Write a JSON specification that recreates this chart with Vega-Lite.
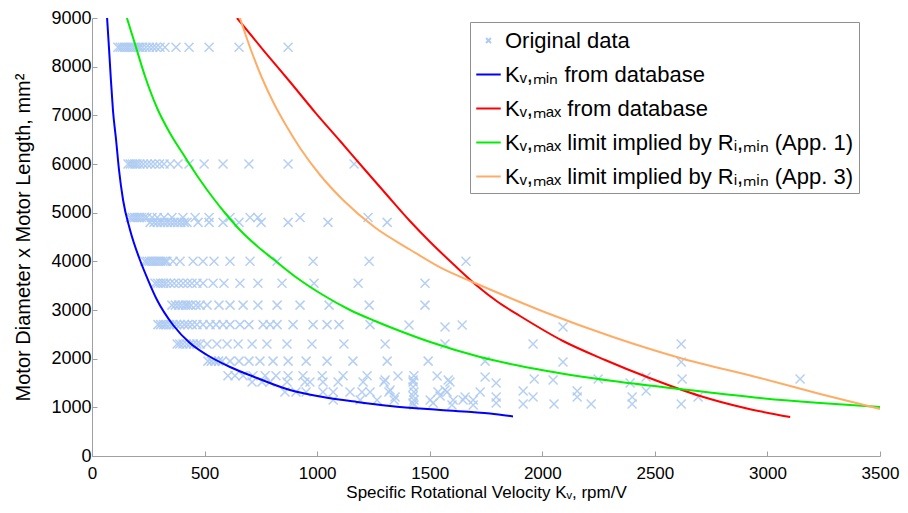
{
  "$schema": "https://vega.github.io/schema/vega-lite/v6.json",
  "autosize": {"type": "none"},
  "width": 788,
  "height": 438,
  "padding": {"left": 92, "top": 18, "right": 28, "bottom": 57},
  "background": "white",
  "config": {"view": {"stroke": null}},
  "datasets": {
    "pts": [
      {"series":"Original data","kv":115,"a":8400},{"series":"Original data","kv":125,"a":8400},{"series":"Original data","kv":135,"a":8400},{"series":"Original data","kv":145,"a":8400},{"series":"Original data","kv":155,"a":8400},{"series":"Original data","kv":165,"a":8400},{"series":"Original data","kv":175,"a":8400},{"series":"Original data","kv":185,"a":8400},{"series":"Original data","kv":195,"a":8400},{"series":"Original data","kv":205,"a":8400},{"series":"Original data","kv":213,"a":8400},{"series":"Original data","kv":225,"a":8400},{"series":"Original data","kv":240,"a":8400},{"series":"Original data","kv":255,"a":8400},{"series":"Original data","kv":270,"a":8400},{"series":"Original data","kv":285,"a":8400},{"series":"Original data","kv":302,"a":8400},{"series":"Original data","kv":324,"a":8400},{"series":"Original data","kv":373,"a":8400},{"series":"Original data","kv":431,"a":8400},{"series":"Original data","kv":520,"a":8400},{"series":"Original data","kv":653,"a":8400},{"series":"Original data","kv":871,"a":8400},
      {"series":"Original data","kv":160,"a":6000},{"series":"Original data","kv":170,"a":6000},{"series":"Original data","kv":180,"a":6000},{"series":"Original data","kv":190,"a":6000},{"series":"Original data","kv":200,"a":6000},{"series":"Original data","kv":213,"a":6000},{"series":"Original data","kv":228,"a":6000},{"series":"Original data","kv":245,"a":6000},{"series":"Original data","kv":262,"a":6000},{"series":"Original data","kv":280,"a":6000},{"series":"Original data","kv":300,"a":6000},{"series":"Original data","kv":320,"a":6000},{"series":"Original data","kv":347,"a":6000},{"series":"Original data","kv":382,"a":6000},{"series":"Original data","kv":431,"a":6000},{"series":"Original data","kv":498,"a":6000},{"series":"Original data","kv":582,"a":6000},{"series":"Original data","kv":697,"a":6000},{"series":"Original data","kv":871,"a":6000},{"series":"Original data","kv":1164,"a":6000},
      {"series":"Original data","kv":169,"a":4900},{"series":"Original data","kv":180,"a":4900},{"series":"Original data","kv":190,"a":4900},{"series":"Original data","kv":200,"a":4900},{"series":"Original data","kv":210,"a":4900},{"series":"Original data","kv":220,"a":4900},{"series":"Original data","kv":232,"a":4900},{"series":"Original data","kv":244,"a":4900},{"series":"Original data","kv":267,"a":4900},{"series":"Original data","kv":290,"a":4900},{"series":"Original data","kv":320,"a":4900},{"series":"Original data","kv":355,"a":4900},{"series":"Original data","kv":404,"a":4900},{"series":"Original data","kv":458,"a":4900},{"series":"Original data","kv":520,"a":4900},{"series":"Original data","kv":613,"a":4900},{"series":"Original data","kv":702,"a":4900},{"series":"Original data","kv":737,"a":4900},{"series":"Original data","kv":924,"a":4900},{"series":"Original data","kv":1226,"a":4900},
      {"series":"Original data","kv":258,"a":4800},{"series":"Original data","kv":275,"a":4800},{"series":"Original data","kv":290,"a":4800},{"series":"Original data","kv":305,"a":4800},{"series":"Original data","kv":320,"a":4800},{"series":"Original data","kv":335,"a":4800},{"series":"Original data","kv":350,"a":4800},{"series":"Original data","kv":365,"a":4800},{"series":"Original data","kv":380,"a":4800},{"series":"Original data","kv":395,"a":4800},{"series":"Original data","kv":410,"a":4800},{"series":"Original data","kv":422,"a":4800},{"series":"Original data","kv":471,"a":4800},{"series":"Original data","kv":520,"a":4800},{"series":"Original data","kv":582,"a":4800},{"series":"Original data","kv":653,"a":4800},{"series":"Original data","kv":751,"a":4800},{"series":"Original data","kv":871,"a":4800},{"series":"Original data","kv":1048,"a":4800},{"series":"Original data","kv":1311,"a":4800},
      {"series":"Original data","kv":235,"a":4000},{"series":"Original data","kv":245,"a":4000},{"series":"Original data","kv":255,"a":4000},{"series":"Original data","kv":265,"a":4000},{"series":"Original data","kv":275,"a":4000},{"series":"Original data","kv":285,"a":4000},{"series":"Original data","kv":295,"a":4000},{"series":"Original data","kv":305,"a":4000},{"series":"Original data","kv":315,"a":4000},{"series":"Original data","kv":325,"a":4000},{"series":"Original data","kv":333,"a":4000},{"series":"Original data","kv":360,"a":4000},{"series":"Original data","kv":391,"a":4000},{"series":"Original data","kv":449,"a":4000},{"series":"Original data","kv":493,"a":4000},{"series":"Original data","kv":542,"a":4000},{"series":"Original data","kv":613,"a":4000},{"series":"Original data","kv":702,"a":4000},{"series":"Original data","kv":822,"a":4000},{"series":"Original data","kv":982,"a":4000},{"series":"Original data","kv":1231,"a":4000},{"series":"Original data","kv":1661,"a":4000},
      {"series":"Original data","kv":280,"a":3550},{"series":"Original data","kv":292,"a":3550},{"series":"Original data","kv":305,"a":3550},{"series":"Original data","kv":318,"a":3550},{"series":"Original data","kv":330,"a":3550},{"series":"Original data","kv":347,"a":3550},{"series":"Original data","kv":365,"a":3550},{"series":"Original data","kv":385,"a":3550},{"series":"Original data","kv":405,"a":3550},{"series":"Original data","kv":425,"a":3550},{"series":"Original data","kv":444,"a":3550},{"series":"Original data","kv":466,"a":3550},{"series":"Original data","kv":493,"a":3550},{"series":"Original data","kv":538,"a":3550},{"series":"Original data","kv":586,"a":3550},{"series":"Original data","kv":657,"a":3550},{"series":"Original data","kv":737,"a":3550},{"series":"Original data","kv":844,"a":3550},{"series":"Original data","kv":986,"a":3550},{"series":"Original data","kv":1182,"a":3550},{"series":"Original data","kv":1479,"a":3550},
      {"series":"Original data","kv":355,"a":3100},{"series":"Original data","kv":370,"a":3100},{"series":"Original data","kv":385,"a":3100},{"series":"Original data","kv":400,"a":3100},{"series":"Original data","kv":415,"a":3100},{"series":"Original data","kv":426,"a":3100},{"series":"Original data","kv":440,"a":3100},{"series":"Original data","kv":462,"a":3100},{"series":"Original data","kv":480,"a":3100},{"series":"Original data","kv":511,"a":3100},{"series":"Original data","kv":564,"a":3100},{"series":"Original data","kv":613,"a":3100},{"series":"Original data","kv":671,"a":3100},{"series":"Original data","kv":737,"a":3100},{"series":"Original data","kv":822,"a":3100},{"series":"Original data","kv":924,"a":3100},{"series":"Original data","kv":1053,"a":3100},{"series":"Original data","kv":1231,"a":3100},{"series":"Original data","kv":1479,"a":3100},
      {"series":"Original data","kv":293,"a":2700},{"series":"Original data","kv":305,"a":2700},{"series":"Original data","kv":318,"a":2700},{"series":"Original data","kv":330,"a":2700},{"series":"Original data","kv":345,"a":2700},{"series":"Original data","kv":360,"a":2700},{"series":"Original data","kv":375,"a":2700},{"series":"Original data","kv":391,"a":2700},{"series":"Original data","kv":410,"a":2700},{"series":"Original data","kv":426,"a":2700},{"series":"Original data","kv":445,"a":2700},{"series":"Original data","kv":466,"a":2700},{"series":"Original data","kv":493,"a":2700},{"series":"Original data","kv":524,"a":2700},{"series":"Original data","kv":551,"a":2700},{"series":"Original data","kv":582,"a":2700},{"series":"Original data","kv":613,"a":2700},{"series":"Original data","kv":657,"a":2700},{"series":"Original data","kv":697,"a":2700},{"series":"Original data","kv":760,"a":2700},{"series":"Original data","kv":791,"a":2700},{"series":"Original data","kv":822,"a":2700},{"series":"Original data","kv":893,"a":2700},{"series":"Original data","kv":982,"a":2700},{"series":"Original data","kv":1044,"a":2700},{"series":"Original data","kv":1097,"a":2700},{"series":"Original data","kv":1235,"a":2700},{"series":"Original data","kv":1408,"a":2690},{"series":"Original data","kv":1568,"a":2650},{"series":"Original data","kv":1644,"a":2690},{"series":"Original data","kv":2092,"a":2650},
      {"series":"Original data","kv":378,"a":2300},{"series":"Original data","kv":390,"a":2300},{"series":"Original data","kv":404,"a":2300},{"series":"Original data","kv":420,"a":2300},{"series":"Original data","kv":435,"a":2300},{"series":"Original data","kv":450,"a":2300},{"series":"Original data","kv":466,"a":2300},{"series":"Original data","kv":480,"a":2300},{"series":"Original data","kv":511,"a":2300},{"series":"Original data","kv":555,"a":2300},{"series":"Original data","kv":600,"a":2300},{"series":"Original data","kv":649,"a":2300},{"series":"Original data","kv":711,"a":2300},{"series":"Original data","kv":777,"a":2300},{"series":"Original data","kv":866,"a":2300},{"series":"Original data","kv":977,"a":2300},{"series":"Original data","kv":1119,"a":2300},{"series":"Original data","kv":1302,"a":2300},{"series":"Original data","kv":1568,"a":2300},{"series":"Original data","kv":1959,"a":2300},{"series":"Original data","kv":2617,"a":2300},
      {"series":"Original data","kv":515,"a":1950},{"series":"Original data","kv":530,"a":1950},{"series":"Original data","kv":546,"a":1950},{"series":"Original data","kv":562,"a":1950},{"series":"Original data","kv":578,"a":1950},{"series":"Original data","kv":613,"a":1950},{"series":"Original data","kv":653,"a":1950},{"series":"Original data","kv":697,"a":1950},{"series":"Original data","kv":746,"a":1950},{"series":"Original data","kv":804,"a":1950},{"series":"Original data","kv":871,"a":1950},{"series":"Original data","kv":951,"a":1950},{"series":"Original data","kv":1044,"a":1950},{"series":"Original data","kv":1159,"a":1950},{"series":"Original data","kv":1311,"a":1950},{"series":"Original data","kv":1493,"a":1950},{"series":"Original data","kv":1746,"a":1950},{"series":"Original data","kv":2092,"a":1930},{"series":"Original data","kv":2617,"a":1930},
      {"series":"Original data","kv":604,"a":1650},{"series":"Original data","kv":635,"a":1650},{"series":"Original data","kv":671,"a":1650},{"series":"Original data","kv":715,"a":1650},{"series":"Original data","kv":769,"a":1650},{"series":"Original data","kv":817,"a":1650},{"series":"Original data","kv":871,"a":1650},{"series":"Original data","kv":937,"a":1650},{"series":"Original data","kv":1022,"a":1650},{"series":"Original data","kv":1115,"a":1650},{"series":"Original data","kv":1222,"a":1650},{"series":"Original data","kv":1359,"a":1644},{"series":"Original data","kv":1430,"a":1650},{"series":"Original data","kv":1533,"a":1644},{"series":"Original data","kv":1746,"a":1623},{"series":"Original data","kv":2461,"a":1623},
      {"series":"Original data","kv":1302,"a":1562},{"series":"Original data","kv":1426,"a":1562},{"series":"Original data","kv":1582,"a":1562},{"series":"Original data","kv":1964,"a":1582},{"series":"Original data","kv":2048,"a":1560},{"series":"Original data","kv":2248,"a":1582},{"series":"Original data","kv":2621,"a":1582},{"series":"Original data","kv":3145,"a":1582},
      {"series":"Original data","kv":711,"a":1520},{"series":"Original data","kv":755,"a":1520},{"series":"Original data","kv":791,"a":1520},{"series":"Original data","kv":866,"a":1520},{"series":"Original data","kv":946,"a":1520},{"series":"Original data","kv":968,"a":1520},{"series":"Original data","kv":1026,"a":1520},{"series":"Original data","kv":1093,"a":1520},{"series":"Original data","kv":1204,"a":1520},{"series":"Original data","kv":1297,"a":1520},{"series":"Original data","kv":1426,"a":1520},{"series":"Original data","kv":1590,"a":1520},{"series":"Original data","kv":1795,"a":1500},{"series":"Original data","kv":2390,"a":1500},
      {"series":"Original data","kv":1426,"a":1418},{"series":"Original data","kv":1324,"a":1356},{"series":"Original data","kv":1568,"a":1356},
      {"series":"Original data","kv":857,"a":1315},{"series":"Original data","kv":906,"a":1315},{"series":"Original data","kv":951,"a":1315},{"series":"Original data","kv":1026,"a":1315},{"series":"Original data","kv":1071,"a":1315},{"series":"Original data","kv":1146,"a":1315},{"series":"Original data","kv":1199,"a":1315},{"series":"Original data","kv":1235,"a":1315},{"series":"Original data","kv":1319,"a":1315},{"series":"Original data","kv":1430,"a":1315},{"series":"Original data","kv":1537,"a":1315},{"series":"Original data","kv":1577,"a":1315},{"series":"Original data","kv":1724,"a":1315},{"series":"Original data","kv":1915,"a":1335},{"series":"Original data","kv":2155,"a":1335},{"series":"Original data","kv":2461,"a":1335},
      {"series":"Original data","kv":1426,"a":1233},{"series":"Original data","kv":1346,"a":1212},{"series":"Original data","kv":1546,"a":1233},{"series":"Original data","kv":1657,"a":1212},{"series":"Original data","kv":1795,"a":1212},{"series":"Original data","kv":1959,"a":1212},{"series":"Original data","kv":2155,"a":1212},{"series":"Original data","kv":2399,"a":1212},{"series":"Original data","kv":2692,"a":1212},
      {"series":"Original data","kv":1071,"a":1151},{"series":"Original data","kv":1191,"a":1151},{"series":"Original data","kv":1266,"a":1151},{"series":"Original data","kv":1342,"a":1151},{"series":"Original data","kv":1430,"a":1151},{"series":"Original data","kv":1502,"a":1151},{"series":"Original data","kv":1604,"a":1151},{"series":"Original data","kv":1648,"a":1151},{"series":"Original data","kv":1693,"a":1151},
      {"series":"Original data","kv":1430,"a":1048},{"series":"Original data","kv":1599,"a":1048},{"series":"Original data","kv":1693,"a":1048},{"series":"Original data","kv":1426,"a":1089},{"series":"Original data","kv":1515,"a":1089},{"series":"Original data","kv":1795,"a":1089},{"series":"Original data","kv":1915,"a":1068},{"series":"Original data","kv":2052,"a":1068},{"series":"Original data","kv":2217,"a":1068},{"series":"Original data","kv":2399,"a":1068},{"series":"Original data","kv":2617,"a":1068}
    ],
    "curves": [
      {"series":"Kᵥ,ₘᵢₙ from database","kv":67,"a":9000},{"series":"Kᵥ,ₘᵢₙ from database","kv":76,"a":8342},{"series":"Kᵥ,ₘᵢₙ from database","kv":84,"a":7726},{"series":"Kᵥ,ₘᵢₙ from database","kv":93,"a":7109},{"series":"Kᵥ,ₘᵢₙ from database","kv":107,"a":6493},{"series":"Kᵥ,ₘᵢₙ from database","kv":120,"a":5877},{"series":"Kᵥ,ₘᵢₙ from database","kv":138,"a":5260},{"series":"Kᵥ,ₘᵢₙ from database","kv":169,"a":4644},{"series":"Kᵥ,ₘᵢₙ from database","kv":213,"a":4027},{"series":"Kᵥ,ₘᵢₙ from database","kv":249,"a":3616},{"series":"Kᵥ,ₘᵢₙ from database","kv":289,"a":3205},{"series":"Kᵥ,ₘᵢₙ from database","kv":360,"a":2692},{"series":"Kᵥ,ₘᵢₙ from database","kv":435,"a":2322},{"series":"Kᵥ,ₘᵢₙ from database","kv":511,"a":2075},{"series":"Kᵥ,ₘᵢₙ from database","kv":613,"a":1829},{"series":"Kᵥ,ₘᵢₙ from database","kv":733,"a":1603},{"series":"Kᵥ,ₘᵢₙ from database","kv":879,"a":1356},{"series":"Kᵥ,ₘᵢₙ from database","kv":1026,"a":1212},{"series":"Kᵥ,ₘᵢₙ from database","kv":1177,"a":1110},{"series":"Kᵥ,ₘᵢₙ from database","kv":1324,"a":1027},{"series":"Kᵥ,ₘᵢₙ from database","kv":1546,"a":945},{"series":"Kᵥ,ₘᵢₙ from database","kv":1768,"a":873},{"series":"Kᵥ,ₘᵢₙ from database","kv":1870,"a":812},
      {"series":"Kᵥ,ₘₐₓ from database","kv":644,"a":9000},{"series":"Kᵥ,ₘₐₓ from database","kv":768,"a":8301},{"series":"Kᵥ,ₘₐₓ from database","kv":880,"a":7685},{"series":"Kᵥ,ₘₐₓ from database","kv":990,"a":7068},{"series":"Kᵥ,ₘₐₓ from database","kv":1102,"a":6473},{"series":"Kᵥ,ₘₐₓ from database","kv":1213,"a":5877},{"series":"Kᵥ,ₘₐₓ from database","kv":1310,"a":5363},{"series":"Kᵥ,ₘₐₓ from database","kv":1412,"a":4829},{"series":"Kᵥ,ₘₐₓ from database","kv":1502,"a":4397},{"series":"Kᵥ,ₘₐₓ from database","kv":1604,"a":3945},{"series":"Kᵥ,ₘₐₓ from database","kv":1706,"a":3514},{"series":"Kᵥ,ₘₐₓ from database","kv":1803,"a":3164},{"series":"Kᵥ,ₘₐₓ from database","kv":1901,"a":2877},{"series":"Kᵥ,ₘₐₓ from database","kv":2092,"a":2363},{"series":"Kᵥ,ₘₐₓ from database","kv":2279,"a":1973},{"series":"Kᵥ,ₘₐₓ from database","kv":2465,"a":1623},{"series":"Kᵥ,ₘₐₓ from database","kv":2701,"a":1233},{"series":"Kᵥ,ₘₐₓ from database","kv":2900,"a":986},{"series":"Kᵥ,ₘₐₓ from database","kv":3101,"a":801},
      {"series":"Kᵥ,ₘₐₓ limit implied by Rᵢ,ₘᵢₙ (App. 1)","kv":155,"a":9000},{"series":"Kᵥ,ₘₐₓ limit implied by Rᵢ,ₘᵢₙ (App. 1)","kv":191,"a":8466},{"series":"Kᵥ,ₘₐₓ limit implied by Rᵢ,ₘᵢₙ (App. 1)","kv":235,"a":7808},{"series":"Kᵥ,ₘₐₓ limit implied by Rᵢ,ₘᵢₙ (App. 1)","kv":289,"a":7151},{"series":"Kᵥ,ₘₐₓ limit implied by Rᵢ,ₘᵢₙ (App. 1)","kv":346,"a":6637},{"series":"Kᵥ,ₘₐₓ limit implied by Rᵢ,ₘᵢₙ (App. 1)","kv":413,"a":6144},{"series":"Kᵥ,ₘₐₓ limit implied by Rᵢ,ₘᵢₙ (App. 1)","kv":480,"a":5671},{"series":"Kᵥ,ₘₐₓ limit implied by Rᵢ,ₘᵢₙ (App. 1)","kv":538,"a":5301},{"series":"Kᵥ,ₘₐₓ limit implied by Rᵢ,ₘᵢₙ (App. 1)","kv":591,"a":4993},{"series":"Kᵥ,ₘₐₓ limit implied by Rᵢ,ₘᵢₙ (App. 1)","kv":657,"a":4644},{"series":"Kᵥ,ₘₐₓ limit implied by Rᵢ,ₘᵢₙ (App. 1)","kv":733,"a":4315},{"series":"Kᵥ,ₘₐₓ limit implied by Rᵢ,ₘᵢₙ (App. 1)","kv":804,"a":4048},{"series":"Kᵥ,ₘₐₓ limit implied by Rᵢ,ₘᵢₙ (App. 1)","kv":911,"a":3658},{"series":"Kᵥ,ₘₐₓ limit implied by Rᵢ,ₘᵢₙ (App. 1)","kv":1026,"a":3308},{"series":"Kᵥ,ₘₐₓ limit implied by Rᵢ,ₘᵢₙ (App. 1)","kv":1146,"a":3000},{"series":"Kᵥ,ₘₐₓ limit implied by Rᵢ,ₘᵢₙ (App. 1)","kv":1257,"a":2774},{"series":"Kᵥ,ₘₐₓ limit implied by Rᵢ,ₘᵢₙ (App. 1)","kv":1368,"a":2568},{"series":"Kᵥ,ₘₐₓ limit implied by Rᵢ,ₘᵢₙ (App. 1)","kv":1502,"a":2342},{"series":"Kᵥ,ₘₐₓ limit implied by Rᵢ,ₘᵢₙ (App. 1)","kv":1724,"a":2034},{"series":"Kᵥ,ₘₐₓ limit implied by Rᵢ,ₘᵢₙ (App. 1)","kv":2021,"a":1747},{"series":"Kᵥ,ₘₐₓ limit implied by Rᵢ,ₘᵢₙ (App. 1)","kv":2314,"a":1541},{"series":"Kᵥ,ₘₐₓ limit implied by Rᵢ,ₘᵢₙ (App. 1)","kv":2612,"a":1377},{"series":"Kᵥ,ₘₐₓ limit implied by Rᵢ,ₘᵢₙ (App. 1)","kv":2967,"a":1192},{"series":"Kᵥ,ₘₐₓ limit implied by Rᵢ,ₘᵢₙ (App. 1)","kv":3234,"a":1089},{"series":"Kᵥ,ₘₐₓ limit implied by Rᵢ,ₘᵢₙ (App. 1)","kv":3500,"a":1007},
      {"series":"Kᵥ,ₘₐₓ limit implied by Rᵢ,ₘᵢₙ (App. 3)","kv":657,"a":9000},{"series":"Kᵥ,ₘₐₓ limit implied by Rᵢ,ₘᵢₙ (App. 3)","kv":706,"a":8342},{"series":"Kᵥ,ₘₐₓ limit implied by Rᵢ,ₘᵢₙ (App. 3)","kv":755,"a":7767},{"series":"Kᵥ,ₘₐₓ limit implied by Rᵢ,ₘᵢₙ (App. 3)","kv":808,"a":7243},{"series":"Kᵥ,ₘₐₓ limit implied by Rᵢ,ₘᵢₙ (App. 3)","kv":866,"a":6760},{"series":"Kᵥ,ₘₐₓ limit implied by Rᵢ,ₘᵢₙ (App. 3)","kv":924,"a":6329},{"series":"Kᵥ,ₘₐₓ limit implied by Rᵢ,ₘᵢₙ (App. 3)","kv":1013,"a":5774},{"series":"Kᵥ,ₘₐₓ limit implied by Rᵢ,ₘᵢₙ (App. 3)","kv":1115,"a":5260},{"series":"Kᵥ,ₘₐₓ limit implied by Rᵢ,ₘᵢₙ (App. 3)","kv":1257,"a":4695},{"series":"Kᵥ,ₘₐₓ limit implied by Rᵢ,ₘᵢₙ (App. 3)","kv":1412,"a":4243},{"series":"Kᵥ,ₘₐₓ limit implied by Rᵢ,ₘᵢₙ (App. 3)","kv":1546,"a":3876},{"series":"Kᵥ,ₘₐₓ limit implied by Rᵢ,ₘᵢₙ (App. 3)","kv":1701,"a":3555},{"series":"Kᵥ,ₘₐₓ limit implied by Rᵢ,ₘᵢₙ (App. 3)","kv":1857,"a":3247},{"series":"Kᵥ,ₘₐₓ limit implied by Rᵢ,ₘᵢₙ (App. 3)","kv":2021,"a":2938},{"series":"Kᵥ,ₘₐₓ limit implied by Rᵢ,ₘᵢₙ (App. 3)","kv":2314,"a":2445},{"series":"Kᵥ,ₘₐₓ limit implied by Rᵢ,ₘᵢₙ (App. 3)","kv":2612,"a":2014},{"series":"Kᵥ,ₘₐₓ limit implied by Rᵢ,ₘᵢₙ (App. 3)","kv":2967,"a":1603},{"series":"Kᵥ,ₘₐₓ limit implied by Rᵢ,ₘᵢₙ (App. 3)","kv":3234,"a":1274},{"series":"Kᵥ,ₘₐₓ limit implied by Rᵢ,ₘᵢₙ (App. 3)","kv":3500,"a":966}
    ]
  },
  "encoding": {
    "x": {"field": "kv", "type": "quantitative",
      "scale": {"domain": [0, 3500], "nice": false},
      "axis": {"values": [0,500,1000,1500,2000,2500,3000,3500], "grid": false, "format": "d",
        "title": "Specific Rotational Velocity Kᵥ, rpm/V",
        "titleFont": "Liberation Sans", "titleFontSize": 17, "titleFontWeight": "normal", "titleColor": "black", "titlePadding": 3,
        "labelFont": "Liberation Sans", "labelFontSize": 17, "labelColor": "black", "labelPadding": 14,
        "domainColor": "#a0a0a0", "tickColor": "#a0a0a0", "tickSize": -5, "labelFlush": false}},
    "y": {"field": "a", "type": "quantitative",
      "scale": {"domain": [0, 9000], "nice": false},
      "axis": {"values": [0,1000,2000,3000,4000,5000,6000,7000,8000,9000], "grid": false, "format": "d",
        "title": "Motor Diameter x Motor Length, mm²",
        "titleFont": "Liberation Sans", "titleFontSize": 20, "titleFontWeight": "normal", "titleColor": "black", "titlePadding": 17,
        "labelFont": "Liberation Sans", "labelFontSize": 18, "labelColor": "black", "labelPadding": 6,
        "domainColor": "#a0a0a0", "tickColor": "#a0a0a0", "tickSize": -5}},
    "color": {"field": "series", "type": "nominal",
      "scale": {"domain": ["Original data","Kᵥ,ₘᵢₙ from database","Kᵥ,ₘₐₓ from database","Kᵥ,ₘₐₓ limit implied by Rᵢ,ₘᵢₙ (App. 1)","Kᵥ,ₘₐₓ limit implied by Rᵢ,ₘᵢₙ (App. 3)"],
        "range": ["#aecbf2","#0000ff","#ff0000","#00ee00","#ffad66"]},
      "legend": {"title": null, "orient": "none", "legendX": 378, "legendY": 4,
        "strokeColor": "#909090", "fillColor": "white", "padding": 5,
        "labelFont": "Liberation Sans", "labelFontSize": 22, "labelColor": "black", "labelLimit": 500,
        "symbolType": "stroke", "symbolSize": 600, "symbolStrokeWidth": 2, "rowPadding": 9, "labelOffset": 3,
        "encode": {"symbols": {"update": {"shape": {"signal": "datum.value === 'Original data' ? 'M-0.2,-0.2L0.2,0.2M-0.2,0.2L0.2,-0.2' : 'stroke'"}}}}}}
  },
  "layer": [
    {"data": {"name": "pts"},
     "mark": {"type": "point", "shape": "M-1,-1L1,1M-1,1L1,-1", "filled": false, "size": 81, "strokeWidth": 1.5, "opacity": 0.9}},
    {"data": {"name": "curves"},
     "mark": {"type": "line", "strokeWidth": 2, "interpolate": "monotone", "clip": true}}
  ]
}
